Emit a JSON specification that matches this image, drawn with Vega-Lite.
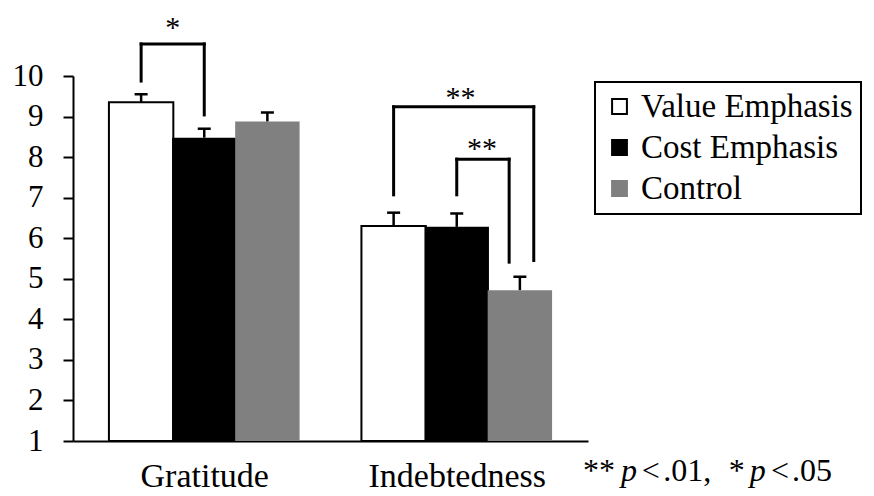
{
  "$schema": "https://vega.github.io/schema/vega-lite/v6.json",
  "width": 515,
  "height": 365,
  "autosize": {"type": "none"},
  "padding": {"left": 73, "top": 76, "right": 286, "bottom": 55},
  "background": "white",
  "config": {"view": {"stroke": null}, "font": "Liberation Serif"},
  "datasets": {
    "bars": [
      {"measure": "Gratitude", "condition": "Value Emphasis", "pos": 1, "mean": 9.35, "upper": 9.55},
      {"measure": "Gratitude", "condition": "Cost Emphasis", "pos": 2, "mean": 8.48, "upper": 8.7},
      {"measure": "Gratitude", "condition": "Control", "pos": 3, "mean": 8.88, "upper": 9.1},
      {"measure": "Indebtedness", "condition": "Value Emphasis", "pos": 5, "mean": 6.3, "upper": 6.63},
      {"measure": "Indebtedness", "condition": "Cost Emphasis", "pos": 6, "mean": 6.28, "upper": 6.61},
      {"measure": "Indebtedness", "condition": "Control", "pos": 7, "mean": 4.72, "upper": 5.05}
    ],
    "brackets": [
      {"x": 1, "x2": 1, "y": 9.875, "y2": 10.79},
      {"x": 1, "x2": 2, "y": 10.79, "y2": 10.79},
      {"x": 2, "x2": 2, "y": 9.04, "y2": 10.79},
      {"x": 5, "x2": 5, "y": 7.07, "y2": 9.24},
      {"x": 5, "x2": 7.22, "y": 9.24, "y2": 9.24},
      {"x": 7.22, "x2": 7.22, "y": 5.45, "y2": 9.24},
      {"x": 6, "x2": 6, "y": 7.07, "y2": 7.95},
      {"x": 6, "x2": 6.83, "y": 7.95, "y2": 7.95},
      {"x": 6.83, "x2": 6.83, "y": 5.41, "y2": 7.95}
    ],
    "stars": [
      {"x": 1.5, "y": 10.96, "label": "*"},
      {"x": 6.06, "y": 9.24, "label": "**"},
      {"x": 6.4, "y": 7.98, "label": "**"}
    ],
    "note": [
      {"x": 8.0, "y": 0.02, "text": "**", "style": "normal"},
      {"x": 8.6, "y": 0.02, "text": "p", "style": "italic"},
      {"x": 8.93, "y": 0.02, "text": "<", "style": "normal"},
      {"x": 9.27, "y": 0.02, "text": ".01,", "style": "normal"},
      {"x": 10.31, "y": 0.02, "text": "*", "style": "normal"},
      {"x": 10.64, "y": 0.02, "text": "p", "style": "italic"},
      {"x": 10.98, "y": 0.02, "text": "<", "style": "normal"},
      {"x": 11.31, "y": 0.02, "text": ".05", "style": "normal"}
    ]
  },
  "layer": [
    {
      "data": {"name": "bars"},
      "mark": {"type": "bar", "size": 64.4, "strokeWidth": 2},
      "encoding": {
        "x": {
          "field": "pos", "type": "quantitative",
          "scale": {"domain": [0, 8], "nice": false, "zero": false},
          "axis": {
            "title": null, "values": [2, 6], "grid": false, "ticks": false,
            "labelExpr": "datum.value == 2 ? 'Gratitude' : 'Indebtedness'",
            "labelFont": "Liberation Serif", "labelFontSize": 34, "labelColor": "black",
            "labelPadding": 18, "domainColor": "black", "domainWidth": 2
          }
        },
        "y": {
          "field": "mean", "type": "quantitative",
          "scale": {"domain": [1, 10], "nice": false, "zero": false},
          "axis": {
            "title": null, "values": [1, 2, 3, 4, 5, 6, 7, 8, 9, 10], "grid": false,
            "tickSize": 10, "tickWidth": 2, "tickColor": "black",
            "labelFont": "Liberation Serif", "labelFontSize": 31, "labelColor": "black",
            "labelPadding": 20, "domainColor": "black", "domainWidth": 2
          }
        },
        "y2": {"datum": 1},
        "fill": {
          "field": "condition", "type": "nominal",
          "scale": {"domain": ["Value Emphasis", "Cost Emphasis", "Control"], "range": ["#ffffff", "#000000", "#808080"]},
          "legend": {
            "title": null, "orient": "none", "legendX": 522, "legendY": 6,
            "labelFont": "Liberation Serif", "labelFontSize": 33, "labelColor": "black",
            "symbolType": "square", "symbolSize": 220, "symbolStrokeColor": "black", "symbolStrokeWidth": 2,
            "symbolOpacity": 1, "strokeColor": "black", "padding": 8, "rowPadding": 7, "labelOffset": 5,
            "labelLimit": 400,
            "encode": {
              "symbols": {"update": {"stroke": {"signal": "datum.value === 'Control' ? '#808080' : '#000000'"}}},
              "legend": {"update": {"strokeWidth": {"value": 2}}}
            }
          }
        },
        "stroke": {"condition": {"test": "datum.condition === 'Value Emphasis'", "value": "#000000"}, "value": "transparent"}
      }
    },
    {
      "data": {"name": "bars"},
      "mark": {"type": "rule", "strokeWidth": 2.5, "color": "black"},
      "encoding": {
        "x": {"field": "pos", "type": "quantitative"},
        "y": {"field": "mean", "type": "quantitative"},
        "y2": {"field": "upper"}
      }
    },
    {
      "data": {"name": "bars"},
      "mark": {"type": "tick", "orient": "horizontal", "size": 13, "thickness": 2.5, "color": "black", "opacity": 1},
      "encoding": {
        "x": {"field": "pos", "type": "quantitative"},
        "y": {"field": "upper", "type": "quantitative"}
      }
    },
    {
      "data": {"name": "brackets"},
      "mark": {"type": "rule", "strokeWidth": 3, "color": "black", "strokeCap": "square"},
      "encoding": {
        "x": {"field": "x", "type": "quantitative"},
        "x2": {"field": "x2"},
        "y": {"field": "y", "type": "quantitative"},
        "y2": {"field": "y2"}
      }
    },
    {
      "data": {"name": "stars"},
      "mark": {"type": "text", "font": "Liberation Serif", "fontSize": 30, "align": "center", "baseline": "alphabetic", "color": "black"},
      "encoding": {
        "x": {"field": "x", "type": "quantitative"},
        "y": {"field": "y", "type": "quantitative"},
        "text": {"field": "label"}
      }
    },
    {
      "data": {"name": "note"},
      "transform": [{"filter": "datum.style === 'normal'"}],
      "mark": {"type": "text", "font": "Liberation Serif", "fontSize": 32, "align": "left", "baseline": "alphabetic", "color": "black"},
      "encoding": {
        "x": {"field": "x", "type": "quantitative"},
        "y": {"field": "y", "type": "quantitative"},
        "text": {"field": "text"}
      }
    },
    {
      "data": {"name": "note"},
      "transform": [{"filter": "datum.style === 'italic'"}],
      "mark": {"type": "text", "font": "Liberation Serif", "fontSize": 32, "fontStyle": "italic", "align": "left", "baseline": "alphabetic", "color": "black"},
      "encoding": {
        "x": {"field": "x", "type": "quantitative"},
        "y": {"field": "y", "type": "quantitative"},
        "text": {"field": "text"}
      }
    }
  ]
}
